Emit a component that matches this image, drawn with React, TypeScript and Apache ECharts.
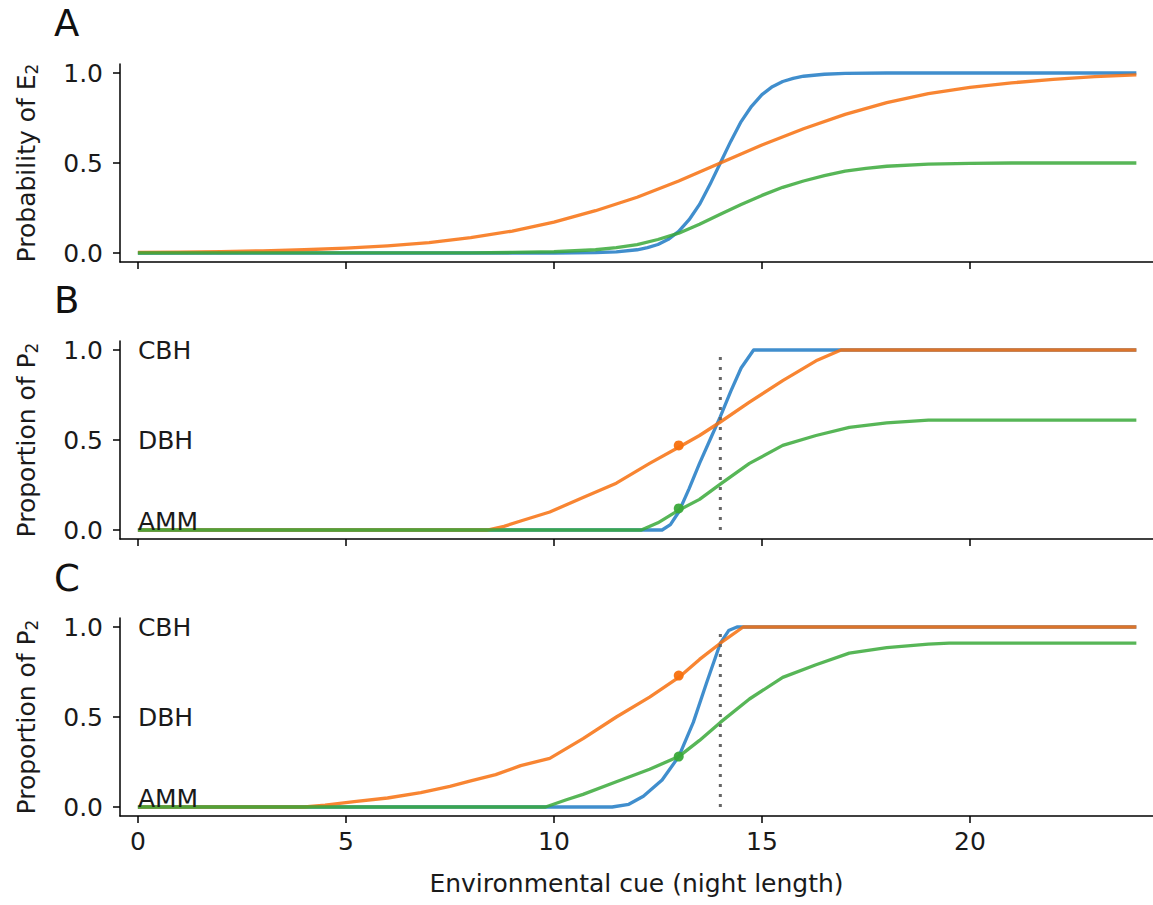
import React, { useEffect, useRef } from "react";
import * as echarts from "echarts";

// ---------- DATA ----------
const xTicks = [0, 5, 10, 15, 20];
const yTicks = [0, 0.5, 1.0];

// Panel A: probability of E2
const aBlue = [[0,0],[10,0],[11,0.002],[11.5,0.006],[12,0.018],[12.25,0.03],[12.5,0.047],[12.75,0.076],[13,0.12],[13.25,0.185],[13.5,0.27],[13.75,0.38],[14,0.5],[14.25,0.62],[14.5,0.73],[14.75,0.815],[15,0.88],[15.25,0.924],[15.5,0.953],[15.75,0.97],[16,0.982],[16.5,0.993],[17,0.998],[18,1.0],[24,1.0]];
const aOrange = [[0,0.004],[1,0.005],[2,0.008],[3,0.012],[4,0.018],[5,0.027],[6,0.04],[7,0.058],[8,0.085],[9,0.122],[10,0.172],[11,0.235],[12,0.31],[13,0.4],[14,0.5],[15,0.6],[16,0.69],[17,0.77],[18,0.835],[19,0.885],[20,0.92],[21,0.945],[22,0.965],[23,0.98],[24,0.99]];
const aGreen = [[0,0],[8,0.001],[9,0.003],[10,0.007],[11,0.018],[11.5,0.03],[12,0.047],[12.5,0.075],[13,0.11],[13.5,0.16],[14,0.215],[14.5,0.27],[15,0.32],[15.5,0.365],[16,0.4],[16.5,0.43],[17,0.455],[17.5,0.47],[18,0.482],[19,0.494],[20,0.498],[21,0.5],[24,0.5]];

// Panel B: proportion of P2
const bBlue = [[0,0],[12.6,0],[12.8,0.03],[13.0,0.1],[13.25,0.23],[13.5,0.37],[13.75,0.5],[14,0.63],[14.25,0.77],[14.5,0.9],[14.8,1.0],[24,1.0]];
const bOrange = [[0,0],[8.4,0],[8.8,0.02],[9.2,0.05],[9.9,0.1],[10.7,0.18],[11.5,0.26],[12.3,0.37],[13,0.46],[13.5,0.525],[14,0.6],[14.7,0.71],[15.5,0.83],[16.3,0.94],[16.9,1.0],[24,1.0]];
const bGreen = [[0,0],[12.1,0],[12.5,0.04],[13,0.11],[13.5,0.17],[14,0.255],[14.7,0.37],[15.5,0.47],[16.3,0.525],[17.1,0.57],[18,0.595],[19,0.61],[24,0.61]];
const bOrangeDot = [[13, 0.47]];
const bGreenDot = [[13, 0.12]];
const bCue = [[14, 0], [14, 1.0]];

// Panel C: proportion of P2
const cBlue = [[0,0],[11.4,0],[11.8,0.015],[12.15,0.06],[12.6,0.15],[13,0.28],[13.35,0.47],[13.67,0.69],[14,0.91],[14.2,0.98],[14.4,1.0],[24,1.0]];
const cOrange = [[0,0],[4,0],[4.5,0.01],[5.2,0.03],[6,0.05],[6.8,0.08],[7.5,0.115],[8,0.145],[8.6,0.18],[9.2,0.23],[9.9,0.27],[10.7,0.38],[11.5,0.5],[12.3,0.61],[13,0.72],[13.5,0.82],[14,0.91],[14.55,1.0],[24,1.0]];
const cGreen = [[0,0],[9.8,0],[10.3,0.04],[10.7,0.07],[11.5,0.14],[12.3,0.21],[13,0.28],[13.5,0.37],[14,0.47],[14.7,0.6],[15.5,0.72],[16.3,0.79],[17.1,0.855],[18,0.885],[19,0.905],[19.5,0.91],[24,0.91]];
const cOrangeDot = [[13, 0.73]];
const cGreenDot = [[13, 0.28]];
const cCue = [[14, 0], [14, 0.97]];

const strategyLabels = ["CBH", "DBH", "AMM"];
const strategyY = [1.0, 0.5, 0.05];
const panelLetters = ["A", "B", "C"];
const yNames = ["Probability of E{s|2}", "Proportion of P{s|2}", "Proportion of P{s|2}"];
const xName = "Environmental cue (night length)";

// ---------- STYLE ----------
const FONT = "DejaVu Sans";
const FS = 25;
const TEXT = "#1a1a1a";
const BLUE = "#1f7ac4";
const ORANGE = "#f7700e";
const GREEN = "#3aa93a";
const GRID_TOPS = [64, 341, 618];
const GRID_H = 198;

export default function App() {
  const ref = useRef<HTMLDivElement>(null);
  useEffect(() => {
    if (!ref.current) return;
    const chart = echarts.init(ref.current, undefined, { renderer: "svg" });

    const grids = GRID_TOPS.map((top) => ({ left: 120, right: 0, top, height: GRID_H }));

    const xAxes = [0, 1, 2].map((i) => ({
      type: "value",
      gridIndex: i,
      min: -0.43,
      max: 24.4,
      axisLine: { show: true, onZero: false, lineStyle: { color: "#000", width: 1.5 } },
      axisTick: { show: true, length: 7, lineStyle: { color: "#000", width: 1.5 }, customValues: xTicks },
      axisLabel: {
        show: i === 2,
        customValues: xTicks,
        fontSize: FS,
        fontFamily: FONT,
        color: TEXT,
        margin: 13,
      },
      splitLine: { show: false },
      name: i === 2 ? xName : "",
      nameLocation: "middle",
      nameGap: 55,
      nameTextStyle: { fontSize: FS, fontFamily: FONT, color: TEXT },
    }));

    const yAxes = [0, 1, 2].map((i) => ({
      type: "value",
      gridIndex: i,
      min: -0.05,
      max: 1.05,
      axisLine: { show: true, onZero: false, lineStyle: { color: "#000", width: 1.5 } },
      axisTick: { show: true, length: 7, lineStyle: { color: "#000", width: 1.5 }, customValues: yTicks },
      axisLabel: {
        customValues: yTicks,
        formatter: (v: number) => v.toFixed(1),
        fontSize: FS,
        fontFamily: FONT,
        color: TEXT,
        margin: 17,
      },
      splitLine: { show: false },
      name: yNames[i],
      nameLocation: "middle",
      nameRotate: 90,
      nameGap: 80,
      nameTextStyle: {
        fontSize: FS,
        fontFamily: FONT,
        color: TEXT,
        rich: { s: { fontSize: 17, fontFamily: FONT, color: TEXT, verticalAlign: "bottom", padding: [10, 0, 0, 0] } },
      },
    }));

    const line = (data: number[][], color: string, idx: number) => ({
      type: "line",
      xAxisIndex: idx,
      yAxisIndex: idx,
      data,
      symbol: "none",
      showSymbol: false,
      lineStyle: { color, width: 3.3, opacity: 0.85, join: "round" },
      silent: true,
    });
    const dot = (data: number[][], color: string, idx: number) => ({
      type: "scatter",
      xAxisIndex: idx,
      yAxisIndex: idx,
      data,
      symbol: "circle",
      symbolSize: 10,
      itemStyle: { color, opacity: 0.95 },
      z: 5,
      silent: true,
    });
    const cue = (data: number[][], idx: number) => ({
      type: "line",
      xAxisIndex: idx,
      yAxisIndex: idx,
      data,
      symbol: "none",
      lineStyle: { color: "#666", width: 3, type: [3, 7], cap: "butt" },
      silent: true,
    });
    const labels = (idx: number) => ({
      type: "scatter",
      xAxisIndex: idx,
      yAxisIndex: idx,
      symbolSize: 0,
      itemStyle: { opacity: 1, color: TEXT },
      data: strategyLabels.map((n, k) => ({ name: n, value: [0, strategyY[k]] })),
      label: {
        show: true,
        formatter: "{b}",
        position: "right",
        distance: 0,
        fontSize: FS,
        fontFamily: FONT,
        color: TEXT,
        opacity: 1,
      },
      silent: true,
      z: 6,
    });

    const series = [
      line(aBlue, BLUE, 0),
      line(aOrange, ORANGE, 0),
      line(aGreen, GREEN, 0),
      line(bBlue, BLUE, 1),
      line(bOrange, ORANGE, 1),
      line(bGreen, GREEN, 1),
      cue(bCue, 1),
      dot(bOrangeDot, ORANGE, 1),
      dot(bGreenDot, GREEN, 1),
      labels(1),
      line(cBlue, BLUE, 2),
      line(cOrange, ORANGE, 2),
      line(cGreen, GREEN, 2),
      cue(cCue, 2),
      dot(cOrangeDot, ORANGE, 2),
      dot(cGreenDot, GREEN, 2),
      labels(2),
    ];

    const letterY = [23, 300, 578];
    const graphic = panelLetters.map((t, i) => ({
      type: "text",
      x: 54,
      y: letterY[i],
      style: { text: t, fontSize: 37, fontFamily: FONT, fill: "#111", verticalAlign: "middle", align: "left" },
    }));

    chart.setOption({
      animation: false,
      backgroundColor: "#fff",
      grid: grids,
      xAxis: xAxes,
      yAxis: yAxes,
      series,
      graphic,
    });
    return () => chart.dispose();
  }, []);
  return <div ref={ref} style={{ position: "absolute", left: 0, top: 0, width: 1153, height: 905 }} />;
}
